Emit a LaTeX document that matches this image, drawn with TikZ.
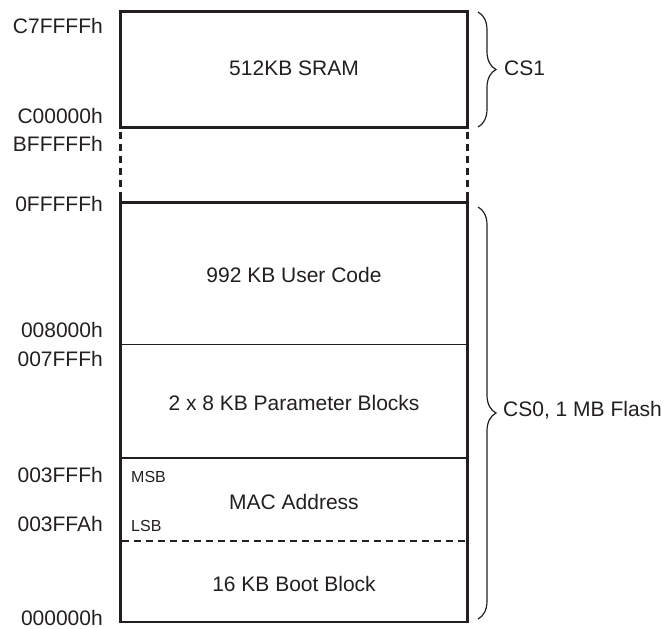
\documentclass[tikz,border=0pt]{standalone}
\usepackage{fontspec}
\setmainfont{Liberation Sans}
\usetikzlibrary{decorations.pathreplacing}
\definecolor{ink}{RGB}{35,31,32}
\begin{document}
\begin{tikzpicture}[x=1pt,y=-1pt,color=ink,
  outer/.style={line width=2.6pt},
  inner/.style={line width=1.3pt},
  gapline/.style={line width=2.6pt,dash pattern=on 7pt off 5pt,dash phase=-4pt},
  sepdash/.style={line width=1.3pt,dash pattern=on 7pt off 5pt},
  addr/.style={anchor=base east,inner sep=0pt,font=\fontsize{21}{25}\selectfont},
  region/.style={anchor=base,inner sep=0pt,font=\fontsize{21}{25}\selectfont},
  small/.style={anchor=base west,inner sep=0pt,font=\fontsize{16}{19}\selectfont},
  csbrace/.style={decorate,decoration={brace,amplitude=18pt},line width=1.2pt},
  cslabel/.style={anchor=base west,inner sep=0pt,font=\fontsize{21}{25}\selectfont}]
\useasboundingbox (0,0) rectangle (667,629);
% boxes
\draw[outer] (120.5,11.5) rectangle (467.5,127.5);
\draw[outer] (120.5,202.5) rectangle (467.5,622);
\draw[outer] (120.5,202.5) -- (120.5,198);
\draw[outer] (467.5,202.5) -- (467.5,198);
% gap dashes
\coordinate (gl1) at (120.5,127.5);
\coordinate (gl2) at (120.5,202.5);
\coordinate (gr1) at (467.5,127.5);
\coordinate (gr2) at (467.5,202.5);
\draw[gapline] (gl1) -- (gl2);
\draw[gapline] (gr1) -- (gr2);
% inner separators
\coordinate (s1l) at (121,344.5);
\coordinate (s1r) at (467,344.5);
\coordinate (s2l) at (121,458);
\coordinate (s2r) at (467,458);
\coordinate (s3l) at (122,541);
\coordinate (s3r) at (466,541);
\draw[inner] (s1l) -- (s1r);
\draw[inner] (s2l) -- (s2r);
\draw[sepdash] (s3l) -- (s3r);
% region texts
\node[region] (sram) at (294,75.5) {512KB SRAM};
\node[region] (user) at (294,282.5) {992 KB User Code};
\node[region] (param) at (294,410.5) {2 x 8 KB Parameter Blocks};
\node[region] (mac) at (294,509.5) {MAC Address};
\node[region] (boot) at (294,591.5) {16 KB Boot Block};
\node[small] (msb) at (131,482.5) {MSB};
\node[small] (lsb) at (131,531.5) {LSB};
% addresses
\node[addr] (a1) at (103,33.5) {C7FFFFh};
\node[addr] (a2) at (103,123.5) {C00000h};
\node[addr] (a3) at (103,151.5) {BFFFFFh};
\node[addr] (a4) at (103,211.5) {0FFFFFh};
\node[addr] (a5) at (103,337.5) {008000h};
\node[addr] (a6) at (103,366.5) {007FFFh};
\node[addr] (a7) at (103,482.5) {003FFFh};
\node[addr] (a8) at (103,531.5) {003FFAh};
\node[addr] (a9) at (103,625.5) {000000h};
% braces
\coordinate (b1t) at (478,12);
\coordinate (b1b) at (478,127);
\coordinate (b2t) at (478,207);
\coordinate (b2b) at (478,619);
\draw[csbrace] (b1t) -- (b1b);
\draw[csbrace] (b2t) -- (b2b);
\node[cslabel] (cs1) at (504,75.5) {CS1};
\node[cslabel] (cs0) at (503,416) {CS0, 1 MB Flash};
\end{tikzpicture}
\end{document}
